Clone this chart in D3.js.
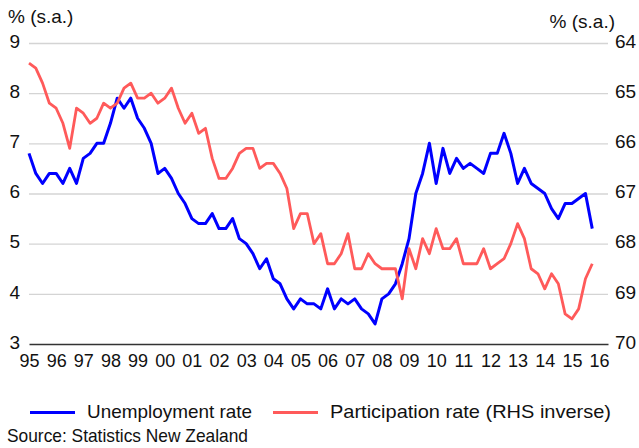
<!DOCTYPE html>
<html>
<head>
<meta charset="utf-8">
<script src="https://cdn.jsdelivr.net/npm/d3@7"></script>
<style>
  body { margin: 0; background: #fff; }
  svg text { font-family: "Liberation Sans", Arial, sans-serif !important; fill: #111; }
</style>
</head>
<body>
<div id="chart"></div>
<script>
// quarterly data, 1995Q1 - 2015Q4
let startYear = 1995;
let yearLabels = ["95","96","97","98","99","00","01","02","03","04","05","06","07","08","09","10","11","12","13","14","15","16"];
let leftTicks = [3, 4, 5, 6, 7, 8, 9];
let rightTicks = [64, 65, 66, 67, 68, 69, 70];

// unemployment rate, % (left axis)
let unemployment = [
  6.8, 6.4, 6.2, 6.4,
  6.4, 6.2, 6.5, 6.2,
  6.7, 6.8, 7.0, 7.0,
  7.4, 7.9, 7.7, 7.9,
  7.5, 7.3, 7.0, 6.4,
  6.5, 6.3, 6.0, 5.8,
  5.5, 5.4, 5.4, 5.6,
  5.3, 5.3, 5.5, 5.1,
  5.0, 4.8, 4.5, 4.7,
  4.3, 4.2, 3.9, 3.7,
  3.9, 3.8, 3.8, 3.7,
  4.1, 3.7, 3.9, 3.8,
  3.9, 3.7, 3.6, 3.4,
  3.9, 4.0, 4.2, 4.6,
  5.1, 6.0, 6.4, 7.0,
  6.2, 6.9, 6.4, 6.7,
  6.5, 6.6, 6.5, 6.4,
  6.8, 6.8, 7.2, 6.8,
  6.2, 6.5, 6.2, 6.1,
  6.0, 5.7, 5.5, 5.8,
  5.8, 5.9, 6.0, 5.3
];

// participation rate, % (right axis, inverted)
let participation = [
  64.4, 64.5, 64.8, 65.2,
  65.3, 65.6, 66.1, 65.3,
  65.4, 65.6, 65.5, 65.2,
  65.3, 65.2, 64.9, 64.8,
  65.1, 65.1, 65.0, 65.2,
  65.1, 64.9, 65.3, 65.6,
  65.4, 65.8, 65.7, 66.3,
  66.7, 66.7, 66.5, 66.2,
  66.1, 66.1, 66.5, 66.4,
  66.4, 66.6, 66.9, 67.7,
  67.4, 67.4, 68.0, 67.8,
  68.4, 68.4, 68.2, 67.8,
  68.5, 68.5, 68.2, 68.4,
  68.5, 68.5, 68.5, 69.1,
  68.1, 68.5, 67.9, 68.2,
  67.7, 68.1, 68.1, 67.9,
  68.4, 68.4, 68.4, 68.1,
  68.5, 68.4, 68.3, 68.0,
  67.6, 67.9, 68.5, 68.6,
  68.9, 68.6, 68.8, 69.4,
  69.5, 69.3, 68.7, 68.4
];

let margin = { top: 43, right: 31, bottom: 104, left: 29 },
  width = 639 - margin.left - margin.right,
  height = 448 - margin.top - margin.bottom;

let font = "'Liberation Sans', Arial, sans-serif";

let svg = d3.select("#chart")
  .append("svg")
  .attr("width", 639)
  .attr("height", 448)
  .attr("font-family", font);

let g = svg.append("g")
  .attr("transform", "translate(" + margin.left + "," + margin.top + ")");

// scales
let x = d3.scaleLinear().domain([startYear, 2016.33]).range([0, width]);
let yLeft = d3.scaleLinear().domain([3, 9]).range([height, 0]);
let yRight = d3.scaleLinear().domain([64, 70]).range([0, height]);

// gridlines
g.append("g")
  .attr("class", "grid")
  .call(d3.axisLeft(yLeft)
    .tickValues(leftTicks.slice(1))
    .tickSize(-width)
    .tickFormat(""))
  .call(s => s.select(".domain").remove())
  .call(s => s.selectAll("line").attr("stroke", "#d4d4d4").attr("stroke-width", 1.3));

// x axis
g.append("g")
  .attr("transform", "translate(0," + height + ")")
  .call(d3.axisBottom(x)
    .tickValues(yearLabels.map((d, i) => startYear + i))
    .tickFormat((d, i) => yearLabels[i])
    .tickSize(0)
    .tickPadding(10))
  .attr("font-family", font)
  .call(s => s.select(".domain").attr("stroke", "#333").attr("stroke-width", 1.5))
  .call(s => s.selectAll("text").style("font-size", "18px").attr("fill", "#111"));

// left axis
g.append("g")
  .call(d3.axisLeft(yLeft).tickValues(leftTicks).tickFormat(d3.format("d")).tickSize(0).tickPadding(9))
  .attr("font-family", font)
  .call(s => s.select(".domain").remove())
  .call(s => s.selectAll("text").style("font-size", "19px").attr("fill", "#111").attr("dy", "0.22em"));

// right axis
g.append("g")
  .attr("transform", "translate(" + width + ",0)")
  .call(d3.axisRight(yRight).tickValues(rightTicks).tickFormat(d3.format("d")).tickSize(0).tickPadding(7))
  .attr("font-family", font)
  .call(s => s.select(".domain").remove())
  .call(s => s.selectAll("text").style("font-size", "19px").attr("fill", "#111").attr("dy", "0.22em"));

// axis titles
svg.append("text").attr("x", 8).attr("y", 23).style("font-size", "19px").text("% (s.a.)");
svg.append("text").attr("x", 615).attr("y", 28).attr("text-anchor", "end").style("font-size", "19px").text("% (s.a.)");

// lines
let lineLeft = d3.line()
  .x((d, i) => x(startYear + i / 4))
  .y(d => yLeft(d));

let lineRight = d3.line()
  .x((d, i) => x(startYear + i / 4))
  .y(d => yRight(d));

g.append("path")
  .datum(unemployment)
  .attr("fill", "none")
  .attr("stroke", "#0000ff")
  .attr("stroke-width", 3)
  .attr("stroke-linejoin", "round")
  .attr("d", lineLeft);

g.append("path")
  .datum(participation)
  .attr("fill", "none")
  .attr("stroke", "#ff5a5a")
  .attr("stroke-width", 2.8)
  .attr("stroke-linejoin", "round")
  .attr("d", lineRight);

// legend
let legend = [
  { name: "Unemployment rate", color: "#0000ff", x: 30, w: 165 },
  { name: "Participation rate (RHS inverse)", color: "#ff5a5a", x: 273, w: 281 }
];

legend.forEach(function (d) {
  svg.append("line")
    .attr("x1", d.x).attr("x2", d.x + 45)
    .attr("y1", 412.5).attr("y2", 412.5)
    .attr("stroke", d.color)
    .attr("stroke-width", 3);
  svg.append("text")
    .attr("x", d.x + 57)
    .attr("y", 418)
    .style("font-size", "19px")
    .attr("textLength", d.w)
    .attr("lengthAdjust", "spacingAndGlyphs")
    .text(d.name);
});

svg.append("text")
  .attr("x", 7)
  .attr("y", 442)
  .style("font-size", "19px")
  .attr("textLength", 241)
  .attr("lengthAdjust", "spacingAndGlyphs")
  .text("Source: Statistics New Zealand");
</script>
</body>
</html>
